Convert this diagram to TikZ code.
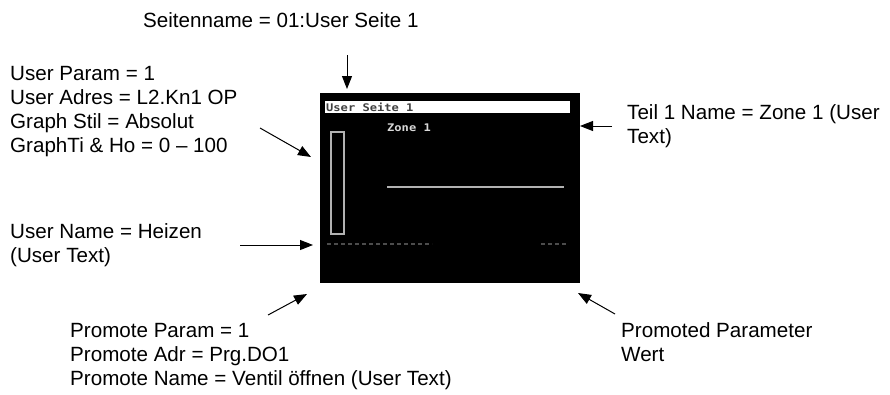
\documentclass[tikz,border=0pt]{standalone}
\usepackage{fontspec}
\setmainfont{Liberation Sans}
\newfontfamily\pixfont[FakeStretch=1.15]{DejaVu Sans Mono Bold}
\usetikzlibrary{arrows.meta}
\begin{document}
\begin{tikzpicture}[x=1pt,y=-1pt,
  lbl/.style={anchor=base west,inner sep=0pt,font=\fontsize{20.6}{24}\selectfont},
  callout/.style={line width=1pt,-{Triangle[length=13pt,width=10pt]}},
  pix/.style={inner sep=0pt,font=\pixfont\fontsize{10.5}{11}\selectfont}]
\useasboundingbox[fill=white] (0,0) rectangle (890,394);
% screen
\node[fill=black,inner sep=0pt,minimum width=260pt,minimum height=190pt,anchor=north west] (screen) at (320,93) {};
\node[fill=white,inner sep=0pt,minimum width=245pt,minimum height=12pt,anchor=north west] (titlebar) at (325,101) {};
\node[pix,anchor=west,text=black!75] (title) at (326,107.5) {User Seite 1};
\node[pix,anchor=west,text=white!85!black] (zone) at (387,128) {Zone 1};
\node[draw=white!70!black,line width=2pt,inner sep=0pt,minimum width=13pt,minimum height=102pt,anchor=north west] (bar) at (329.5,131) {};
\coordinate (hl1) at (387,187);
\coordinate (hl2) at (564,187);
\draw[white!70!black,line width=2pt] (hl1) -- (hl2);
\coordinate (d1) at (327,243.5);
\coordinate (d2) at (432,243.5);
\coordinate (d3) at (541,243.5);
\coordinate (d4) at (567,243.5);
\draw[white!30!black,line width=2pt,dash pattern=on 4pt off 3pt] (d1) -- (d2);
\draw[white!30!black,line width=2pt,dash pattern=on 4pt off 3pt] (d3) -- (d4);
% labels
\node[lbl] (seite) at (143,27) {Seitenname = 01:User Seite 1};
\node[lbl] (user) at (10,80) {\vtop{\hbox{User Param = 1}\hbox{User Adres = L2.Kn1 OP}\hbox{Graph Stil = Absolut}\hbox{GraphTi \& Ho = 0 – 100}}};
\node[lbl] (uname) at (10,238) {\vtop{\hbox{User Name = Heizen}\hbox{(User Text)}}};
\node[lbl] (teil) at (627,119) {\vtop{\hbox{Teil 1 Name = Zone 1 (User}\hbox{Text)}}};
\node[lbl] (prom) at (70,337) {\vtop{\hbox{Promote Param = 1}\hbox{Promote Adr = Prg.DO1}\hbox{Promote Name = Ventil öffnen (User Text)}}};
\node[lbl] (pval) at (621,337) {\vtop{\hbox{Promoted Parameter}\hbox{Wert}}};
% arrows
\coordinate (a1s) at (347,55);  \coordinate (a1e) at (347,89);
\coordinate (a2s) at (260,128); \coordinate (a2e) at (311,157);
\coordinate (a3s) at (240,245); \coordinate (a3e) at (313,245);
\coordinate (a4s) at (612,126); \coordinate (a4e) at (580,126);
\coordinate (a5s) at (268,315); \coordinate (a5e) at (307,294);
\coordinate (a6s) at (615,314); \coordinate (a6e) at (578,293);
\draw[callout] (a1s) -- (a1e);
\draw[callout] (a2s) -- (a2e);
\draw[callout] (a3s) -- (a3e);
\draw[callout] (a4s) -- (a4e);
\draw[callout] (a5s) -- (a5e);
\draw[callout] (a6s) -- (a6e);
\end{tikzpicture}
\end{document}
